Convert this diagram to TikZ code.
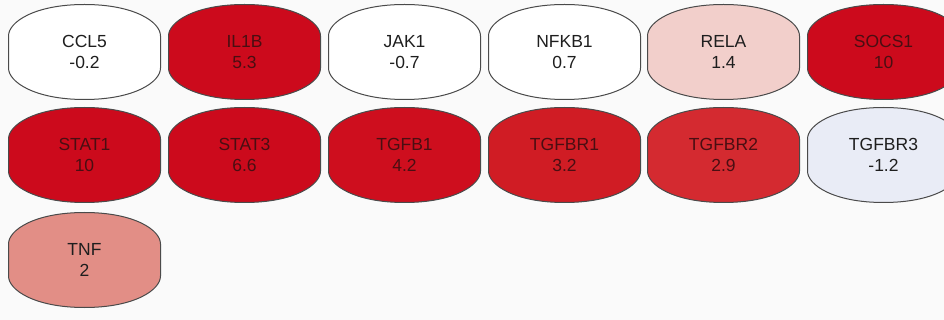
\documentclass[tikz,border=0pt]{standalone}
\usepackage{fontspec}
\setmainfont{Liberation Sans}
\definecolor{bg}{HTML}{FAFAFA}
\definecolor{edgegray}{HTML}{4A4A4A}
\definecolor{redA}{HTML}{CC0A1C}
\definecolor{redB}{HTML}{CE0E1E}
\definecolor{redC}{HTML}{D01C24}
\definecolor{redD}{HTML}{D42A30}
\definecolor{pinkA}{HTML}{E28E86}
\definecolor{pinkB}{HTML}{F2CFCB}
\definecolor{blueA}{HTML}{E9ECF6}
\definecolor{darktext}{HTML}{1E1E1E}
\definecolor{redtext}{HTML}{4A0E12}
\tikzset{
  genebox/.style={draw=edgegray, line width=1pt},
  genetext/.style={inner sep=0pt, align=center, font=\fontsize{17.5}{21.5}\selectfont, text=darktext},
  ontored/.style={text=redtext}
}
\newcommand\genenode[6]{% name, x, y, fill, text style, label
  \begin{scope}[shift={(#2,#3)}]
    \draw[genebox, fill=#4] (-76,-16) -- (-76,16)
      .. controls (-76,30) and (-50,47.5) .. (0,47.5)
      .. controls (50,47.5) and (76,30) .. (76,16)
      -- (76,-16)
      .. controls (76,-30) and (50,-47.5) .. (0,-47.5)
      .. controls (-50,-47.5) and (-76,-30) .. cycle;
  \end{scope}
  \node[genetext,#5] (#1) at (#2,#3) {#6};
}
\begin{document}
\begin{tikzpicture}[x=1pt,y=-1pt]
  \useasboundingbox (0,0) rectangle (944,320);
  \clip (0,0) rectangle (944,320);
  \fill[bg] (0,0) rectangle (944,320);
  % row 1
  \genenode{ccl5}{84.5}{52}{white}{}{CCL5\\-0.2}
  \genenode{il1b}{244.5}{52}{redA}{ontored}{IL1B\\5.3}
  \genenode{jak1}{404.5}{52}{white}{}{JAK1\\-0.7}
  \genenode{nfkb1}{564.5}{52}{white}{}{NFKB1\\0.7}
  \genenode{rela}{723.5}{52}{pinkB}{}{RELA\\1.4}
  \genenode{socs1}{883.5}{52}{redA}{ontored}{SOCS1\\10}
  % row 2
  \genenode{stat1}{84.5}{155}{redA}{ontored}{STAT1\\10}
  \genenode{stat3}{244.5}{155}{redA}{ontored}{STAT3\\6.6}
  \genenode{tgfb1}{404.5}{155}{redB}{ontored}{TGFB1\\4.2}
  \genenode{tgfbr1}{564.5}{155}{redC}{ontored}{TGFBR1\\3.2}
  \genenode{tgfbr2}{723.5}{155}{redD}{ontored}{TGFBR2\\2.9}
  \genenode{tgfbr3}{883.5}{155}{blueA}{}{TGFBR3\\-1.2}
  % row 3
  \genenode{tnf}{84.5}{260}{pinkA}{}{TNF\\2}
\end{tikzpicture}
\end{document}
